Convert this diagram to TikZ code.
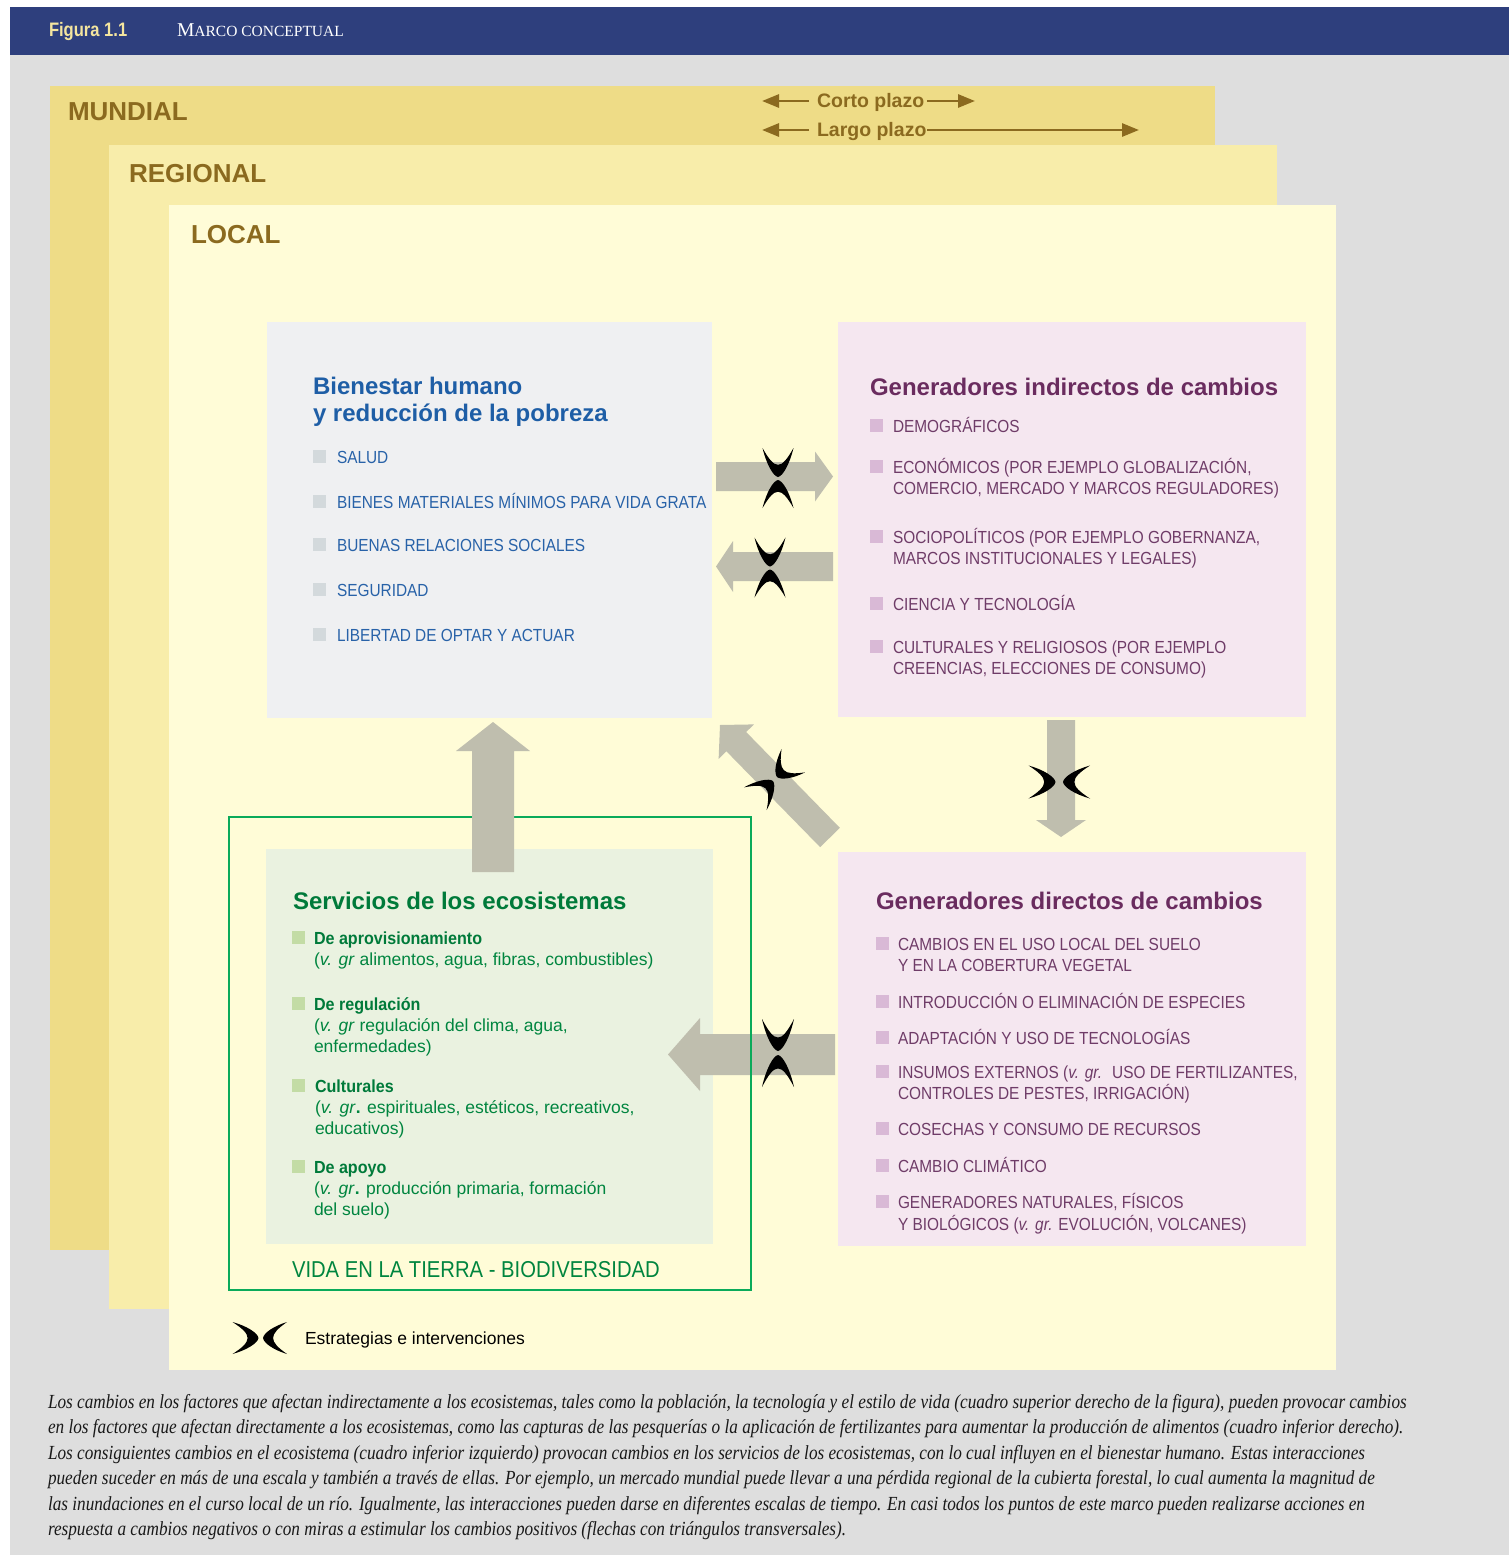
\documentclass[tikz,border=0pt]{standalone}
\usepackage{fontspec}
\setmainfont{Liberation Sans}
\newfontfamily\capsf{Liberation Sans}[FakeStretch=0.88]
\newfontfamily\figf{Liberation Sans}[FakeStretch=0.85]
\newfontfamily\bsf{Liberation Sans}[FakeStretch=0.92]
\newfontfamily\capserif{Liberation Serif}[FakeStretch=0.86]
\newfontfamily\hdserif{Liberation Serif}
\usetikzlibrary{calc,arrows.meta}
\newcommand\pxs[1]{\fontsize{#1}{#1}\selectfont}

\definecolor{bggray}{RGB}{222,222,222}
\definecolor{hdblue}{RGB}{46,63,125}
\definecolor{hdyellow}{RGB}{244,229,159}
\definecolor{mundfill}{RGB}{238,220,135}
\definecolor{regfill}{RGB}{248,237,170}
\definecolor{locfill}{RGB}{255,252,215}
\definecolor{brownc}{RGB}{139,106,31}
\definecolor{bienfill}{RGB}{239,240,242}
\definecolor{pinkfill}{RGB}{245,231,240}
\definecolor{servfill}{RGB}{234,242,224}
\definecolor{bluet}{RGB}{30,94,166}
\definecolor{bluei}{RGB}{40,98,168}
\definecolor{purpt}{RGB}{106,44,95}
\definecolor{purpi}{RGB}{111,60,104}
\definecolor{greent}{RGB}{0,133,63}
\definecolor{greenb}{RGB}{0,122,58}
\definecolor{greenframe}{RGB}{10,170,90}
\definecolor{bulgray}{RGB}{211,217,220}
\definecolor{bulpink}{RGB}{217,185,214}
\definecolor{bulgreen}{RGB}{195,220,165}
\definecolor{arrowfill}{RGB}{191,190,174}
\definecolor{captxt}{RGB}{25,25,25}

\tikzset{
  lbl/.style={anchor=base west, inner sep=0pt, outer sep=0pt},
  layer/.style={draw=none, inner sep=0pt, outer sep=0pt},
  scalelbl/.style={lbl, font=\bfseries\pxs{26}, text=brownc},
  timelbl/.style={lbl, font=\bfseries\pxs{19.5}, text=brownc},
  timearrow/.style={draw=brownc, line width=2.8pt, -{Triangle[length=17pt,width=13pt]}},
  titblue/.style={lbl, font=\bfseries\pxs{24}, text=bluet},
  itblue/.style={lbl, font=\capsf\pxs{17.5}, text=bluei},
  titpurp/.style={lbl, font=\bfseries\pxs{24}, text=purpt},
  itpurp/.style={lbl, font=\capsf\pxs{17.5}, text=purpi},
  titgreen/.style={lbl, font=\bfseries\pxs{24}, text=greenb},
  itgreenb/.style={lbl, font=\bsf\bfseries\pxs{17.5}, text=greenb},
  itgreen/.style={lbl, font=\pxs{17.5}, text=greent},
  caplbl/.style={lbl, font=\capserif\itshape\pxs{20}, text=captxt},
  pics/xpiece/.style 2 args={code={
    \fill[black] (-#1,#2) .. controls (-0.45*#1,0.75*#2) and (-0.03*#1,0.32*#2) .. (0,0)
      .. controls (-0.03*#1,-0.32*#2) and (-0.45*#1,-0.75*#2) .. (-#1,-#2)
      .. controls (-0.62*#1,-0.6*#2) and (-0.42*#1,-0.3*#2) .. (-0.42*#1,0)
      .. controls (-0.42*#1,0.3*#2) and (-0.62*#1,0.6*#2) .. (-#1,#2) -- cycle;
  }}
}

% block arrow: #1 tail, #2 tip, #3 shaft half width, #4 head half width, #5 head length
\newcommand\blockarrow[5]{%
  \coordinate (bah) at ($(#2)!#5!(#1)$);
  \fill[arrowfill] ($(#1)!#3!90:(#2)$) -- ($(bah)!#3!90:(#2)$) -- ($(bah)!#4!90:(#2)$)
    -- (#2) -- ($(bah)!#4!-90:(#2)$) -- ($(bah)!#3!-90:(#2)$) -- ($(#1)!#3!-90:(#2)$) -- cycle;
}
\newcommand\bul[3]{\fill[#1] (#2,#3-13) rectangle ++(12.5,12.5);}

\begin{document}
\begin{tikzpicture}[x=1pt,y=-1pt]
\useasboundingbox (0,0) rectangle (1509,1555);
\fill[white] (0,0) rectangle (1509,1555);
\fill[bggray] (10,55) rectangle (1509,1555);
\fill[hdblue] (10,7) rectangle (1509,55);
\node[lbl, font=\figf\bfseries\pxs{19.5}, text=hdyellow] (fig) at (49,37) {Figura 1.1};
\node[lbl, font=\hdserif, text=white] (marco) at (177,37) {{\pxs{19.6}M}{\pxs{15.5}ARCO CONCEPTUAL}};

% scale layers
\node[layer, fill=mundfill, minimum width=1165pt, minimum height=1164pt] (mund) at (632.5,668) {};
\node[layer, fill=regfill, minimum width=1168pt, minimum height=1164pt] (reg) at (693,727) {};
\node[layer, fill=locfill, minimum width=1167pt, minimum height=1165pt] (loc) at (752.5,787.5) {};
\node[scalelbl] (lmund) at (68,120) {MUNDIAL};
\node[scalelbl] (lreg) at (129,182) {REGIONAL};
\node[scalelbl] (lloc) at (191,243) {LOCAL};

% time arrows
\node[timelbl] (corto) at (817,107) {Corto plazo};
\node[timelbl] (largo) at (817,136) {Largo plazo};
\coordinate (c1a) at (809,101); \coordinate (c1b) at (762,101);
\coordinate (c2a) at (927,101); \coordinate (c2b) at (975,101);
\coordinate (l1a) at (809,130); \coordinate (l1b) at (762,130);
\coordinate (l2a) at (927,130); \coordinate (l2b) at (1139,130);
\draw[timearrow] (c1a) -- (c1b);
\draw[timearrow] (c2a) -- (c2b);
\draw[timearrow] (l1a) -- (l1b);
\draw[timearrow] (l2a) -- (l2b);

% boxes
\node[layer, fill=bienfill, minimum width=445pt, minimum height=396pt] (bien) at (489.5,520) {};
\node[layer, fill=pinkfill, minimum width=468pt, minimum height=395pt] (indir) at (1072,519.5) {};
\node[layer, fill=servfill, minimum width=447pt, minimum height=395pt] (serv) at (489.5,1046.5) {};
\node[layer, fill=pinkfill, minimum width=468pt, minimum height=394pt] (dir) at (1072,1049) {};

% Bienestar
\node[titblue] (bt1) at (313,394) {Bienestar humano};
\node[titblue] (bt2) at (313,421) {y reducción de la pobreza};
\bul{bulgray}{313}{463}\node[itblue] (bi1) at (337,463) {SALUD};
\bul{bulgray}{313}{508}\node[itblue] (bi2) at (337,508) {BIENES MATERIALES MÍNIMOS PARA VIDA GRATA};
\bul{bulgray}{313}{551}\node[itblue] (bi3) at (337,551) {BUENAS RELACIONES SOCIALES};
\bul{bulgray}{313}{596}\node[itblue] (bi4) at (337,596) {SEGURIDAD};
\bul{bulgray}{313}{641}\node[itblue] (bi5) at (337,641) {LIBERTAD DE OPTAR Y ACTUAR};

% Indirectos
\node[titpurp] (it) at (870,395) {Generadores indirectos de cambios};
\bul{bulpink}{870}{432}\node[itpurp] (ii1) at (893,432) {DEMOGRÁFICOS};
\bul{bulpink}{870}{473}\node[itpurp] (ii2) at (893,473) {ECONÓMICOS (POR EJEMPLO GLOBALIZACIÓN,};
\node[itpurp] (ii2b) at (893,494) {COMERCIO, MERCADO Y MARCOS REGULADORES)};
\bul{bulpink}{870}{543}\node[itpurp] (ii3) at (893,543) {SOCIOPOLÍTICOS (POR EJEMPLO GOBERNANZA,};
\node[itpurp] (ii3b) at (893,564) {MARCOS INSTITUCIONALES Y LEGALES)};
\bul{bulpink}{870}{610}\node[itpurp] (ii4) at (893,610) {CIENCIA Y TECNOLOGÍA};
\bul{bulpink}{870}{653}\node[itpurp] (ii5) at (893,653) {CULTURALES Y RELIGIOSOS (POR EJEMPLO};
\node[itpurp] (ii5b) at (893,674) {CREENCIAS, ELECCIONES DE CONSUMO)};

% Servicios
\node[titgreen] (st) at (293,909) {Servicios de los ecosistemas};
\bul{bulgreen}{292}{944}\node[itgreenb] (si1) at (314,944) {De aprovisionamiento};
\node[itgreen] (si1b) at (314,965) {(\textit{v. gr} alimentos, agua, fibras, combustibles)};
\bul{bulgreen}{292}{1010}\node[itgreenb] (si2) at (314,1010) {De regulación};
\node[itgreen] (si2b) at (314,1031) {(\textit{v. gr} regulación del clima, agua,};
\node[itgreen] (si2c) at (314,1052) {enfermedades)};
\bul{bulgreen}{292}{1092}\node[itgreenb] (si3) at (315,1092) {Culturales};
\node[itgreen] (si3b) at (315,1113) {(\textit{v. gr}\textbf{.} espirituales, estéticos, recreativos,};
\node[itgreen] (si3c) at (315,1134) {educativos)};
\bul{bulgreen}{292}{1173}\node[itgreenb] (si4) at (314,1173) {De apoyo};
\node[itgreen] (si4b) at (314,1194) {(\textit{v. gr}\textbf{.} producción primaria, formación};
\node[itgreen] (si4c) at (314,1215) {del suelo)};

% Directos
\node[titpurp] (dt) at (876,909) {Generadores directos de cambios};
\bul{bulpink}{876}{950}\node[itpurp] (di1) at (898,950) {CAMBIOS EN EL USO LOCAL DEL SUELO};
\node[itpurp] (di1b) at (898,971) {Y EN LA COBERTURA VEGETAL};
\bul{bulpink}{876}{1008}\node[itpurp] (di2) at (898,1008) {INTRODUCCIÓN O ELIMINACIÓN DE ESPECIES};
\bul{bulpink}{876}{1044}\node[itpurp] (di3) at (898,1044) {ADAPTACIÓN Y USO DE TECNOLOGÍAS};
\bul{bulpink}{876}{1078}\node[itpurp] (di4) at (898,1078) {INSUMOS EXTERNOS (\textit{v. gr.}~ USO DE FERTILIZANTES,};
\node[itpurp] (di4b) at (898,1099) {CONTROLES DE PESTES, IRRIGACIÓN)};
\bul{bulpink}{876}{1135}\node[itpurp] (di5) at (898,1135) {COSECHAS Y CONSUMO DE RECURSOS};
\bul{bulpink}{876}{1172}\node[itpurp] (di6) at (898,1172) {CAMBIO CLIMÁTICO};
\bul{bulpink}{876}{1208}\node[itpurp] (di7) at (898,1208) {GENERADORES NATURALES, FÍSICOS};
\node[itpurp] (di7b) at (898,1230) {Y BIOLÓGICOS (\textit{v. gr.} EVOLUCIÓN, VOLCANES)};

% block arrows
\coordinate (a1t) at (716,476.5); \coordinate (a1h) at (833,476.5);
\coordinate (a2t) at (833,566.5); \coordinate (a2h) at (716,566.5);
\coordinate (a3t) at (493,872);   \coordinate (a3h) at (493,722);
\coordinate (a4t) at (830,837.5); \coordinate (a4h) at (720,725);
\coordinate (a5t) at (1061,720);  \coordinate (a5h) at (1061,837);
\coordinate (a6t) at (835,1054.5); \coordinate (a6h) at (668,1054.5);
\blockarrow{a1t}{a1h}{14.5pt}{25pt}{18pt}
\blockarrow{a2t}{a2h}{14.5pt}{25.5pt}{17pt}
\blockarrow{a4t}{a4h}{13.8pt}{24.7pt}{23.3pt}
\blockarrow{a5t}{a5h}{14pt}{25pt}{17pt}
\blockarrow{a6t}{a6h}{20.5pt}{36.5pt}{32pt}

% green frame
\node[draw=greenframe, line width=2.5pt, fill=none, inner sep=0pt, minimum width=522pt, minimum height=473pt] (frame) at (490,1053.5) {};
\node[lbl, font=\capsf\pxs{23}, text=greent] (vida) at (292,1277) {VIDA EN LA TIERRA - BIODIVERSIDAD};

\blockarrow{a3t}{a3h}{21pt}{37pt}{29pt}

% strategy symbols
\pic[rotate=-90] at (778,477) {xpiece={29}{15.5}};
\pic[rotate=90] at (778,480) {xpiece={28}{15.5}};
\pic[rotate=-90] at (770,566.5) {xpiece={29}{15.5}};
\pic[rotate=90] at (770,569.5) {xpiece={28}{15.5}};
\pic[rotate=-90] at (778,1051) {xpiece={32}{16}};
\pic[rotate=90] at (778,1055) {xpiece={32}{16}};
\pic at (1055.5,782) {xpiece={27}{16.5}};
\pic[rotate=180] at (1063,782) {xpiece={27}{16.5}};
\pic[rotate=225] at (777,777) {xpiece={23}{16.5}};
\pic[rotate=45] at (773,781) {xpiece={25}{16}};
% legend
\pic at (258.5,1338) {xpiece={26}{16}};
\pic[rotate=180] at (263,1338) {xpiece={24}{16}};
\node[lbl, font=\pxs{17.5}, text=black] (leg) at (305,1344) {Estrategias e intervenciones};

% caption
\node[caplbl] (cap1) at (48,1408) {Los cambios en los factores que afectan indirectamente a los ecosistemas, tales como la población, la tecnología y el estilo de vida (cuadro superior derecho de la figura), pueden provocar cambios};
\node[caplbl] (cap2) at (48,1433.5) {en los factores que afectan directamente a los ecosistemas, como las capturas de las pesquerías o la aplicación de fertilizantes para aumentar la producción de alimentos (cuadro inferior derecho).};
\node[caplbl] (cap3) at (48,1459) {Los consiguientes cambios en el ecosistema (cuadro inferior izquierdo) provocan cambios en los servicios de los ecosistemas, con lo cual influyen en el bienestar humano. Estas interacciones};
\node[caplbl] (cap4) at (48,1484.5) {pueden suceder en más de una escala y también a través de ellas. Por ejemplo, un mercado mundial puede llevar a una pérdida regional de la cubierta forestal, lo cual aumenta la magnitud de};
\node[caplbl] (cap5) at (48,1510) {las inundaciones en el curso local de un río. Igualmente, las interacciones pueden darse en diferentes escalas de tiempo. En casi todos los puntos de este marco pueden realizarse acciones en};
\node[caplbl] (cap6) at (48,1535.5) {respuesta a cambios negativos o con miras a estimular los cambios positivos (flechas con triángulos transversales).};
\end{tikzpicture}
\end{document}
